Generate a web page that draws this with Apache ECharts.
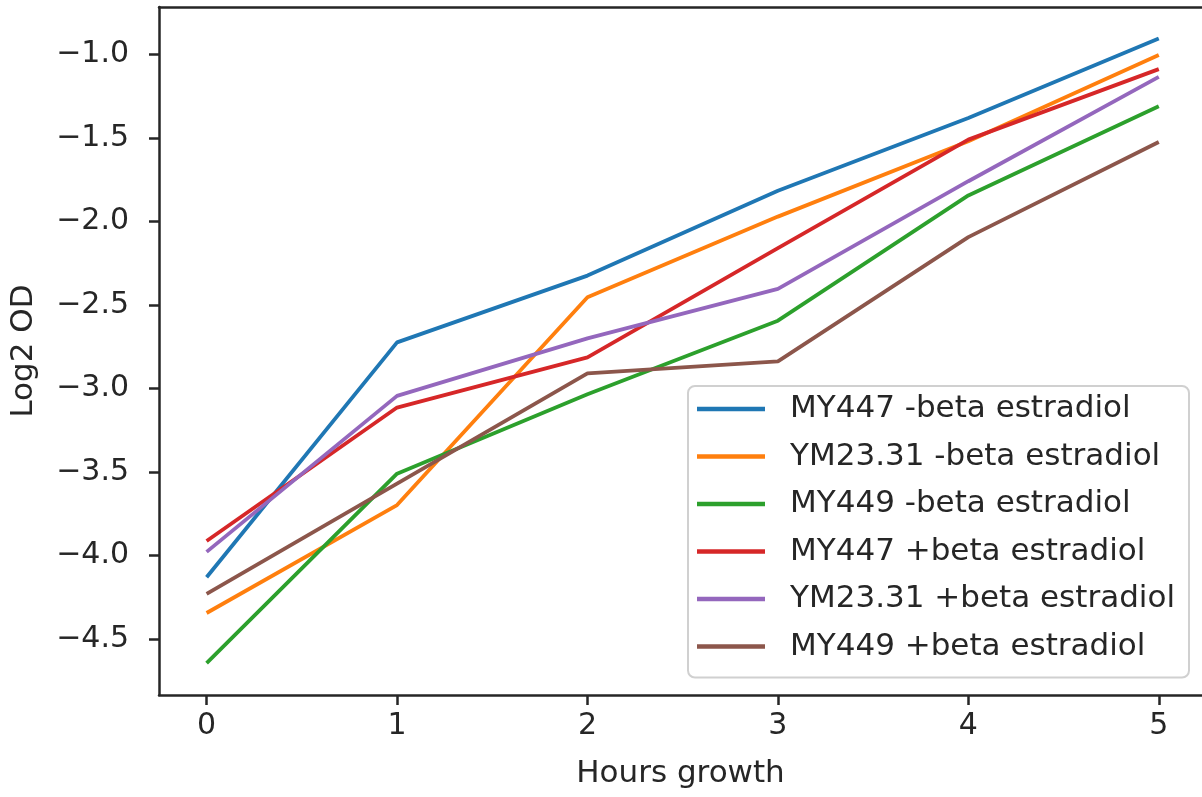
<!DOCTYPE html>
<html>
<head>
<meta charset="utf-8">
<script src="https://cdn.jsdelivr.net/npm/echarts@6/dist/echarts.min.js"></script>
<style>html,body{margin:0;padding:0;background:#fff}#c{width:1202px;height:797px}</style>
</head>
<body>
<div id="c"></div>
<script>
const hours = [0, 1, 2, 3, 4, 5];
const seriesNames = [
  'MY447 -beta estradiol',
  'YM23.31 -beta estradiol',
  'MY449 -beta estradiol',
  'MY447 +beta estradiol',
  'YM23.31 +beta estradiol',
  'MY449 +beta estradiol'
];
const my447Minus = [-4.13, -2.724, -2.324, -1.816, -1.38, -0.904];
const ym2331Minus = [-4.344, -3.698, -2.454, -1.971, -1.52, -1.004];
const my449Minus = [-4.644, -3.51, -3.034, -2.594, -1.844, -1.31];
const my447Plus = [-3.913, -3.114, -2.814, -2.16, -1.51, -1.088];
const ym2331Plus = [-3.978, -3.044, -2.70, -2.404, -1.759, -1.134];
const my449Plus = [-4.23, -3.57, -2.91, -2.838, -2.094, -1.524];
const xTicks = [0, 1, 2, 3, 4, 5];
const yTicks = [-4.5, -4.0, -3.5, -3.0, -2.5, -2.0, -1.5, -1.0];

const allValues = [my447Minus, ym2331Minus, my449Minus, my447Plus, ym2331Plus, my449Plus];
const colors = ['#1f77b4', '#ff7f0e', '#2ca02c', '#d62728', '#9467bd', '#8c564b'];
const FONT = 'DejaVu Sans';
const TXT = '#262626';
const SPINE = '#262626';

const chart = echarts.init(document.getElementById('c'), null, {renderer: 'canvas'});
const fmtY = v => (v < 0 ? '\u2212' : '') + Math.abs(v).toFixed(1);

chart.setOption({
  animation: false,
  backgroundColor: '#fff',
  color: colors,
  grid: {left: 158, top: 7, width: 1044, height: 688, containLabel: false},
  legend: {
    orient: 'vertical',
    left: 688, top: 386,
    data: seriesNames,
    icon: 'rect',
    itemWidth: 68, itemHeight: 4.5,
    itemGap: 13.5,
    padding: [6, 14, 14, 9],
    backgroundColor: 'rgba(255,255,255,0.85)',
    borderColor: '#d0d0d0', borderWidth: 2, borderRadius: 7,
    textStyle: {fontFamily: FONT, fontSize: 31, color: TXT, lineHeight: 34, padding: [0, 0, 0, 20]}
  },
  xAxis: [{
    type: 'value', min: -0.25, max: 5.227,
    name: 'Hours growth', nameLocation: 'middle', nameGap: 63,
    nameTextStyle: {fontFamily: FONT, fontSize: 31, color: TXT},
    axisLine: {show: true, onZero: false, lineStyle: {color: SPINE, width: 2.5}},
    axisTick: {show: true, length: 10, lineStyle: {color: SPINE, width: 2.5}, customValues: xTicks},
    axisLabel: {fontFamily: FONT, fontSize: 30, color: TXT, margin: 16, customValues: xTicks,
      formatter: v => String(v)},
    splitLine: {show: false}
  }, {
    type: 'value', position: 'top', min: -0.25, max: 5.227,
    axisLine: {show: true, onZero: false, lineStyle: {color: SPINE, width: 2.5}},
    axisTick: {show: false}, axisLabel: {show: false}, splitLine: {show: false}
  }],
  yAxis: [{
    type: 'value', min: -4.835, max: -0.716,
    name: 'Log2 OD', nameLocation: 'middle', nameGap: 120,
    nameTextStyle: {fontFamily: FONT, fontSize: 31, color: TXT},
    axisLine: {show: true, onZero: false, lineStyle: {color: SPINE, width: 2.5}},
    axisTick: {show: true, length: 10, lineStyle: {color: SPINE, width: 2.5}, customValues: yTicks},
    axisLabel: {fontFamily: FONT, fontSize: 30, color: TXT, margin: 30, customValues: yTicks, formatter: fmtY},
    splitLine: {show: false}
  }],
  series: seriesNames.map((n, i) => ({
    name: n, type: 'line', xAxisIndex: 0, yAxisIndex: 0,
    data: hours.map((h, j) => [h, allValues[i][j]]),
    showSymbol: false, symbol: 'none',
    lineStyle: {width: 3.8, color: colors[i]},
    itemStyle: {color: colors[i]},
    emphasis: {disabled: true}
  }))
});
</script>
</body>
</html>
